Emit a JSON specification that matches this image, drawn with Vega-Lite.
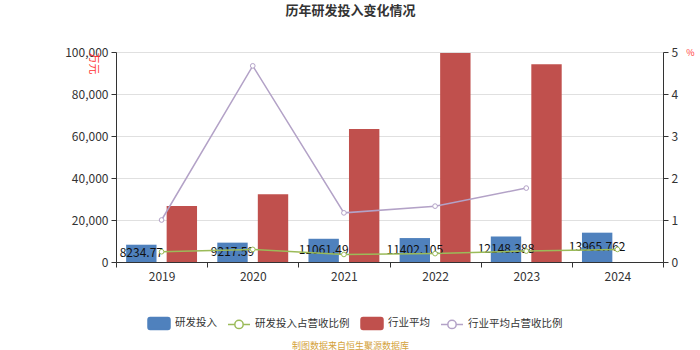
{
  "$schema": "https://vega.github.io/schema/vega-lite/v6.json",
  "width": 547,
  "height": 210,
  "autosize": {"type": "none"},
  "padding": {"left": 116, "top": 52, "right": 37, "bottom": 88},
  "background": "white",
  "config": {
    "font": "Noto Sans CJK SC",
    "view": {"stroke": null},
    "axis": {"labelColor": "#333", "labelFontSize": 12, "domainColor": "#333", "tickColor": "#333"}
  },
  "title": {"text": "历年研发投入变化情况", "fontSize": 13, "fontWeight": "bold", "color": "#333", "anchor": "middle", "frame": "group", "dx": -39, "offset": 28},
  "datasets": {
    "bars": [
      {"year": "2019", "series": "研发投入", "value": 8234.77},
      {"year": "2020", "series": "研发投入", "value": 9217.59},
      {"year": "2021", "series": "研发投入", "value": 11061.49},
      {"year": "2022", "series": "研发投入", "value": 11402.105},
      {"year": "2023", "series": "研发投入", "value": 12148.388},
      {"year": "2024", "series": "研发投入", "value": 13965.762},
      {"year": "2019", "series": "行业平均", "value": 26700},
      {"year": "2020", "series": "行业平均", "value": 32300},
      {"year": "2021", "series": "行业平均", "value": 63300},
      {"year": "2022", "series": "行业平均", "value": 99500},
      {"year": "2023", "series": "行业平均", "value": 94200}
    ],
    "ratios": [
      {"year": "2019", "series": "研发投入占营收比例", "ratio": 0.245},
      {"year": "2020", "series": "研发投入占营收比例", "ratio": 0.30},
      {"year": "2021", "series": "研发投入占营收比例", "ratio": 0.18},
      {"year": "2022", "series": "研发投入占营收比例", "ratio": 0.20},
      {"year": "2023", "series": "研发投入占营收比例", "ratio": 0.26},
      {"year": "2024", "series": "研发投入占营收比例", "ratio": 0.30},
      {"year": "2019", "series": "行业平均占营收比例", "ratio": 1.0},
      {"year": "2020", "series": "行业平均占营收比例", "ratio": 4.67},
      {"year": "2021", "series": "行业平均占营收比例", "ratio": 1.17},
      {"year": "2022", "series": "行业平均占营收比例", "ratio": 1.33},
      {"year": "2023", "series": "行业平均占营收比例", "ratio": 1.76}
    ]
  },
  "encoding": {
    "x": {
      "field": "year", "type": "nominal",
      "scale": {"domain": ["2019", "2020", "2021", "2022", "2023", "2024"], "paddingInner": 0, "paddingOuter": 0},
      "axis": {"title": "制图数据来自恒生聚源数据库", "titleColor": "#d4a23a", "titleFontSize": 9, "titleFontWeight": "normal", "titleX": 234, "titleY": 83, "titleAnchor": null, "titleAlign": "center", "titleBaseline": "middle", "labelAngle": 0, "tickBand": "extent", "labelPadding": 4, "tickSize": 5, "grid": false}
    }
  },
  "layer": [
    {
      "data": {"name": "bars"},
      "mark": {"type": "bar"},
      "encoding": {
        "xOffset": {"field": "series", "type": "nominal", "scale": {"domain": ["研发投入", "行业平均"], "paddingInner": 0.25, "paddingOuter": 0.25}},
        "y": {
          "field": "value", "type": "quantitative",
          "scale": {"domain": [0, 100000], "nice": false},
          "axis": {"title": "万元", "titleColor": "#ff3333", "titleFontSize": 11, "titleFontWeight": "normal", "titleAngle": 90, "titleX": -24, "titleY": 11, "titleAlign": "center", "titleBaseline": "middle", "values": [0, 20000, 40000, 60000, 80000, 100000], "format": ",.0f", "gridColor": "#e0e0e0", "tickSize": 5, "labelPadding": 3}
        },
        "color": {
          "field": "series", "type": "nominal",
          "scale": {"domain": ["研发投入", "研发投入占营收比例", "行业平均", "行业平均占营收比例"], "range": ["#4f81bd", "#9bbb59", "#c0504d", "#b3a2c7"]},
          "legend": {
            "title": null, "orient": "none", "direction": "horizontal", "legendX": 31, "legendY": 259,
            "symbolSize": 484, "labelFontSize": 10.5, "labelColor": "#333", "labelOffset": 4, "columnPadding": 8, "padding": 0,
            "symbolStrokeWidth": 1.5,
            "encode": {
              "symbols": {
                "update": {
                  "shape": [
                    {"test": "datum.value == '研发投入占营收比例' || datum.value == '行业平均占营收比例'", "value": "M-1,0H-0.38M0.38,0H1M0.38,0A0.38,0.38,0,1,1,-0.38,0A0.38,0.38,0,1,1,0.38,0"},
                    {"value": "M-0.8,-0.55H0.8A0.2,0.2,0,0,1,1,-0.35V0.35A0.2,0.2,0,0,1,0.8,0.55H-0.8A0.2,0.2,0,0,1,-1,0.35V-0.35A0.2,0.2,0,0,1,-0.8,-0.55Z"}
                  ],
                  "fill": [
                    {"test": "datum.value == '研发投入占营收比例' || datum.value == '行业平均占营收比例'", "value": "white"},
                    {"scale": "color", "field": "value"}
                  ],
                  "fillOpacity": [
                    {"test": "datum.value == '研发投入占营收比例' || datum.value == '行业平均占营收比例'", "value": 0},
                    {"value": 1}
                  ],
                  "stroke": {"scale": "color", "field": "value"},
                  "opacity": {"value": 1}
                }
              }
            }
          }
        }
      }
    },
    {
      "data": {"name": "bars"},
      "transform": [{"filter": "datum.series == '研发投入'"}],
      "mark": {"type": "text", "fontSize": 12, "color": "#111", "baseline": "middle", "align": "center"},
      "encoding": {
        "xOffset": {"field": "series", "type": "nominal", "scale": {"domain": ["研发投入", "行业平均"], "paddingInner": 0.25, "paddingOuter": 0.25}},
        "y": {"field": "value", "type": "quantitative", "scale": {"domain": [0, 200000], "nice": false}, "axis": null},
        "text": {"field": "value", "type": "nominal"}
      }
    },
    {
      "data": {"name": "ratios"},
      "mark": {"type": "line", "strokeWidth": 1.5, "point": {"filled": false, "fill": "white", "size": 22, "strokeWidth": 1}},
      "encoding": {
        "y": {
          "field": "ratio", "type": "quantitative",
          "scale": {"domain": [0, 5], "nice": false},
          "axis": {"orient": "right", "title": "%", "titleColor": "#ff3333", "titleFontSize": 9, "titleFontWeight": "normal", "titleAngle": 0, "titleX": 27, "titleY": 0, "titleAlign": "center", "titleBaseline": "middle", "values": [0, 1, 2, 3, 4, 5], "grid": false, "tickSize": 5, "labelPadding": 3}
        },
        "color": {"field": "series", "type": "nominal"}
      }
    }
  ],
  "resolve": {"scale": {"y": "independent", "xOffset": "shared"}}
}
